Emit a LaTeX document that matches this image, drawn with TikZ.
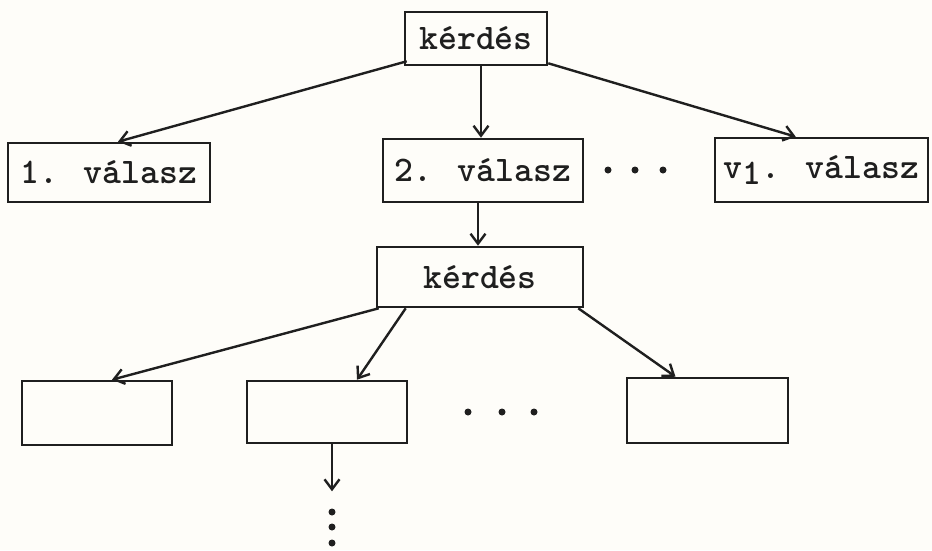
\documentclass[tikz,border=0pt]{standalone}
\usetikzlibrary{arrows.meta,calc}
\definecolor{paper}{rgb}{0.995,0.993,0.975}
\definecolor{ink}{rgb}{0.12,0.12,0.12}
\tikzset{
  box/.style={draw=ink, line width=2.6pt, inner sep=0pt, font=\ttfamily\bfseries\fontsize{36}{42}\selectfont, text=ink},
  conn/.style={draw=ink, line width=2.4pt, -{Straight Barb[length=10pt,width=15pt,line width=2.4pt]}},
  typedot/.style={circle, fill=ink, inner sep=0pt, minimum size=7pt}
}
\begin{document}
\begin{tikzpicture}[x=1pt,y=-1pt]
\fill[paper] (0,0) rectangle (932,550);
% nodes
\node[box, minimum width=142pt, minimum height=53pt] (k1) at (476,38.5) {kérdés};
\node[box, minimum width=202pt, minimum height=59pt] (a1) at (109,172.5) {1. válasz};
\node[box, minimum width=200pt, minimum height=63pt] (a2) at (483,170.5) {2. válasz};
\node[box, minimum width=213pt, minimum height=64pt] (a3) at (821.5,170) {v\raisebox{-0.42ex}{1}. válasz};
\node[box, minimum width=206pt, minimum height=60pt] (k2) at (480,277) {kérdés};
\node[box, minimum width=150pt, minimum height=64pt] (b1) at (97,413) {};
\node[box, minimum width=160pt, minimum height=62pt] (b2) at (327,412) {};
\node[box, minimum width=161pt, minimum height=65pt] (b3) at (707.5,410.5) {};
% ellipsis dots
\node[typedot] (d1) at (608,170) {};
\node[typedot] (d2) at (635,170) {};
\node[typedot] (d3) at (663,170) {};
\node[typedot] (e1) at (468,412) {};
\node[typedot] (e2) at (502,412) {};
\node[typedot] (e3) at (534,412) {};
\node[typedot] (f1) at (332,512) {};
\node[typedot] (f2) at (332,527) {};
\node[typedot] (f3) at (332,543) {};
% connectors
\draw[conn] ($(k1.south west)+(3,-5)$) -- ($(a1.north)+(9,0)$);
\draw[conn] ($(k1.south)+(5,0)$) -- ($(a2.north)+(-2,0)$);
\draw[conn] ($(k1.south east)+(0,-3)$) -- ($(a3.north west)+(82,0)$);
\draw[conn] ($(a2.south)+(-5,0)$) -- ($(k2.north)+(-2,0)$);
\draw[conn] ($(k2.south west)+(3,0)$) -- ($(b1.north)+(15,0)$);
\draw[conn] ($(k2.south west)+(30,0)$) -- ($(b2.north)+(30,0)$);
\draw[conn] ($(k2.south east)+(-6,0)$) -- ($(b3.north)+(-32,0)$);
\coordinate (down) at ($(b2.south)+(5,47)$);
\draw[conn] ($(b2.south)+(5,0)$) -- (down);
\end{tikzpicture}
\end{document}
